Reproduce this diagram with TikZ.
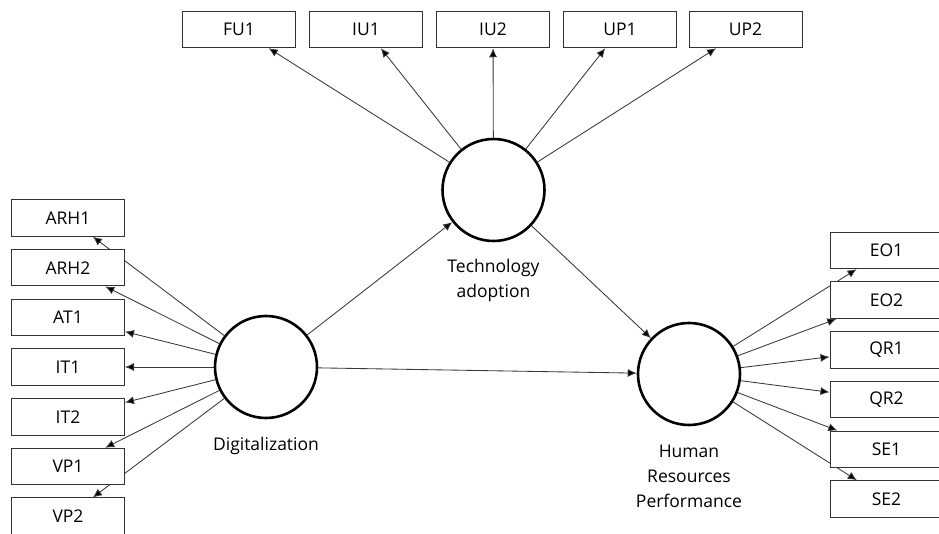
\documentclass[tikz,border=0pt]{standalone}
\usepackage{fontspec}
\setmainfont{Open Sans}
\usetikzlibrary{arrows.meta,positioning,backgrounds}
\tikzset{
 >={Latex[length=9pt,width=8pt]},
 ind/.style={draw=black!80,line width=1pt,fill=white,minimum width=113pt,minimum height=36.5pt,inner sep=0pt,font=\fontsize{17.5}{20}\selectfont},
 lat/.style={circle,draw=black,line width=2.6pt,fill=white,minimum size=102pt,inner sep=0pt},
 lbl/.style={align=center,inner sep=0pt,font=\fontsize{17.5}{25}\selectfont},
 ld/.style={draw=black!78,line width=0.85pt}
}

\begin{document}
\begin{tikzpicture}[x=1pt,y=-1pt]
\useasboundingbox (0,0) rectangle (939,534);

%latent variables
\path (266,367) node[name=dig,lat] {};
\path (493.5,190) node[name=tec,lat] {};
\path (689,374) node[name=hrp,lat] {};
\path (dig) node[name=diglbl,lbl,below=18pt of dig] {Digitalization};
\path (tec) node[name=teclbl,lbl,below=17pt of tec] {Technology\\adoption};
\path (hrp) node[name=hrplbl,lbl,below=19pt of hrp] {Human\\Resources\\Performance};

%indicators, top
\path (239,29.5) node[name=fu1,ind] {FU1};
\path (366,29.5) node[name=iu1,ind] {IU1};
\path (493,29.5) node[name=iu2,ind] {IU2};
\path (620,29.5) node[name=up1,ind] {UP1};
\path (745.5,29.5) node[name=up2,ind] {UP2};

%indicators, left
\path (68,218) node[name=arh1,ind] {ARH1};
\path (68,267.7) node[name=arh2,ind] {ARH2};
\path (68,317.4) node[name=at1,ind] {AT1};
\path (68,367) node[name=it1,ind] {IT1};
\path (68,416.8) node[name=it2,ind] {IT2};
\path (68,466.5) node[name=vp1,ind] {VP1};
\path (68,516.2) node[name=vp2,ind] {VP2};

%indicators, right
\path (886.5,250.5) node[name=eo1,ind] {EO1};
\path (886.5,300.2) node[name=eo2,ind] {EO2};
\path (886.5,349.9) node[name=qr1,ind] {QR1};
\path (886.5,399.6) node[name=qr2,ind] {QR2};
\path (886.5,449.3) node[name=se1,ind] {SE1};
\path (886.5,499) node[name=se2,ind] {SE2};

\begin{scope}[on background layer]
%structural paths
\path[->,ld] (dig) edge (tec);
\path[->,ld] (dig) edge (hrp);
\path[->,ld] (tec) edge (hrp);

%loadings
\path[->,ld] (tec) edge (fu1);
\path[->,ld] (tec) edge (iu1);
\path[->,ld] (tec) edge (iu2);
\path[->,ld] (tec) edge (up1);
\path[->,ld] (tec) edge (up2);

\path[->,ld] (dig) edge (arh1);
\path[->,ld] (dig) edge (arh2);
\path[->,ld] (dig) edge (at1);
\path[->,ld] (dig) edge (it1);
\path[->,ld] (dig) edge (it2);
\path[->,ld] (dig) edge (vp1);
\path[->,ld] (dig) edge (vp2);

\path[->,ld] (hrp) edge (eo1);
\path[->,ld] (hrp) edge (eo2);
\path[->,ld] (hrp) edge (qr1);
\path[->,ld] (hrp) edge (qr2);
\path[->,ld] (hrp) edge (se1);
\path[->,ld] (hrp) edge (se2);
\end{scope}
\end{tikzpicture}
\end{document}
